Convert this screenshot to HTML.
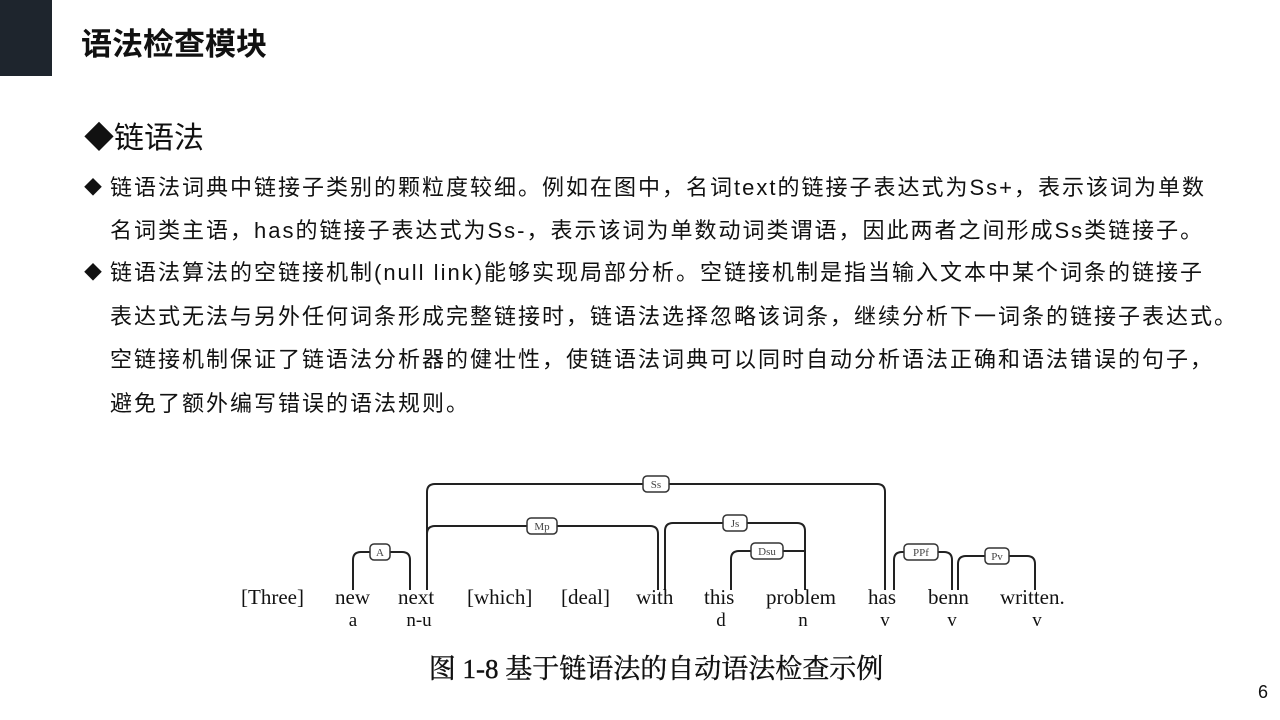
<!DOCTYPE html>
<html><head><meta charset="utf-8"><style>
body{margin:0;width:1280px;height:720px;background:#fff;position:relative;overflow:hidden;font-family:"Liberation Sans","Noto Sans CJK SC",sans-serif;color:#111}
.bar{position:absolute;left:0;top:0;width:52px;height:76px;background:#1e252d}
.title{position:absolute;left:81px;top:25px;font-size:31px;font-weight:bold;line-height:40px}
.h2{position:absolute;left:84px;top:119px;font-size:30px;line-height:40px}
.t{position:absolute;left:110px;font-size:22px;line-height:30px;white-space:nowrap;letter-spacing:2px}
.b{position:absolute;left:84px;font-size:18px;line-height:30px}
.pn{position:absolute;left:1258px;top:682px;font-size:18px}
svg text{font-family:"Liberation Serif","Noto Serif CJK SC",serif}
</style></head><body>
<div class="bar"></div>
<div class="title">语法检查模块</div>
<div class="h2">◆链语法</div>
<div class="b" style="top:173px">◆</div>
<div class="t" style="top:173px">链语法词典中链接子类别的颗粒度较细。例如在图中，名词text的链接子表达式为Ss+，表示该词为单数</div>
<div class="t" style="top:216px">名词类主语，has的链接子表达式为Ss-，表示该词为单数动词类谓语，因此两者之间形成Ss类链接子。</div>
<div class="b" style="top:258px">◆</div>
<div class="t" style="top:258px">链语法算法的空链接机制(null link)能够实现局部分析。空链接机制是指当输入文本中某个词条的链接子</div>
<div class="t" style="top:302px">表达式无法与另外任何词条形成完整链接时，链语法选择忽略该词条，继续分析下一词条的链接子表达式。</div>
<div class="t" style="top:345px">空链接机制保证了链语法分析器的健壮性，使链语法词典可以同时自动分析语法正确和语法错误的句子，</div>
<div class="t" style="top:389px">避免了额外编写错误的语法规则。</div>
<svg style="position:absolute;left:0;top:0" width="1280" height="720">
<g fill="none" stroke="#222" stroke-width="2">
<path d="M427,590 V492 Q427,484 435,484 H877 Q885,484 885,492 V590"/>
<path d="M427,590 V534 Q427,526 435,526 H650 Q658,526 658,534 V590"/>
<path d="M665,590 V531 Q665,523 673,523 H797 Q805,523 805,531 V590"/>
<path d="M731,590 V559 Q731,551 739,551 H805"/>
<path d="M353,590 V560 Q353,552 361,552 H402 Q410,552 410,560 V590"/>
<path d="M894,590 V560 Q894,552 902,552 H944 Q952,552 952,560 V590"/>
<path d="M958,590 V564 Q958,556 966,556 H1027 Q1035,556 1035,564 V590"/>
</g>
<g fill="#fff" stroke="#333" stroke-width="1.5">
<rect x="643" y="476" width="26" height="16" rx="4"/>
<rect x="527" y="518" width="30" height="16" rx="4"/>
<rect x="723" y="515" width="24" height="16" rx="4"/>
<rect x="751" y="543" width="32" height="16" rx="4"/>
<rect x="370" y="544" width="20" height="16" rx="4"/>
<rect x="904" y="544" width="34" height="16" rx="4"/>
<rect x="985" y="548" width="24" height="16" rx="4"/>
</g>
<g font-size="11" fill="#444" text-anchor="middle">
<text x="656" y="488">Ss</text><text x="542" y="530">Mp</text><text x="735" y="527">Js</text>
<text x="767" y="555">Dsu</text><text x="380" y="556">A</text><text x="921" y="556">PPf</text><text x="997" y="560">Pv</text>
</g>
<g font-size="21" fill="#111">
<text x="241" y="604">[Three]</text><text x="335" y="604">new</text><text x="398" y="604">next</text>
<text x="467" y="604">[which]</text><text x="561" y="604">[deal]</text><text x="636" y="604">with</text>
<text x="704" y="604">this</text><text x="766" y="604">problem</text><text x="868" y="604">has</text>
<text x="928" y="604">benn</text><text x="1000" y="604">written.</text>
</g>
<g font-size="19" fill="#111" text-anchor="middle">
<text x="353" y="626">a</text><text x="419" y="626">n-u</text><text x="721" y="626">d</text><text x="803" y="626">n</text>
<text x="885" y="626">v</text><text x="952" y="626">v</text><text x="1037" y="626">v</text>
</g>
<text x="656" y="678" font-size="27" text-anchor="middle" fill="#111" stroke="#111" stroke-width="0.4">图 1-8 基于链语法的自动语法检查示例</text>
</svg>
<div class="pn">6</div>
</body></html>
